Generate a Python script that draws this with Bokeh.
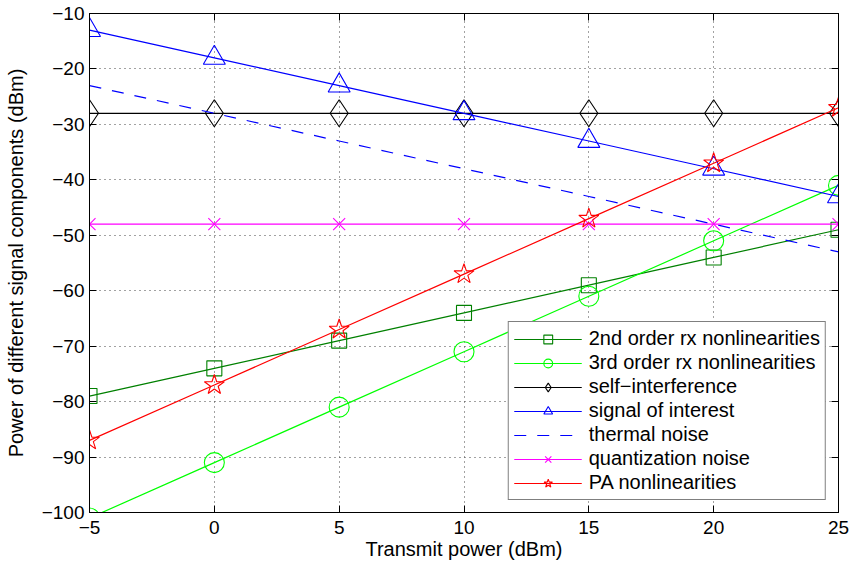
from bokeh.plotting import figure
from bokeh.models import (Range1d, FixedTicker, Legend, LegendItem, LinearAxis,
                          CustomJSTickFormatter)
from bokeh.embed import file_html
from bokeh.resources import INLINE

tx_power = [-5, 0, 5, 10, 15, 20, 25]
second_order = [-79, -74, -69, -64, -59, -54, -49]
third_order = [-101, -91, -81, -71, -61, -51, -41]
self_interference = [-28, -28, -28, -28, -28, -28, -28]
signal_of_interest = [-13, -18, -23, -28, -33, -38, -43]
thermal_noise = [-23, -28, -33, -38, -43, -48, -53]
quantization_noise = [-48, -48, -48, -48, -48, -48, -48]
pa_nonlin = [-87, -77, -67, -57, -47, -37, -27]

x_ticks = [-5, 0, 5, 10, 15, 20, 25]
y_ticks = [-100, -90, -80, -70, -60, -50, -40, -30, -20, -10]

FONT = "Liberation Sans"
TICK_FS = "19px"
LABEL_FS = "20px"

p = figure(width=849, height=565, output_backend="svg", toolbar_location=None,
           x_range=Range1d(-5, 25), y_range=Range1d(-100, -10),
           min_border_left=89, min_border_right=11, min_border_top=13,
           min_border_bottom=53)
p.background_fill_color = "white"
p.border_fill_color = "white"
p.outline_line_color = "black"
p.outline_line_width = 1

minus_fmt = CustomJSTickFormatter(code="return tick.toString().replace('-', '\u2212');")

for ax, ticks in ((p.xaxis[0], x_ticks), (p.yaxis[0], y_ticks)):
    ax.ticker = FixedTicker(ticks=ticks)
    ax.formatter = minus_fmt
    ax.major_tick_in = 7
    ax.major_tick_out = 0
    ax.minor_tick_line_color = None
    ax.axis_line_color = "black"
    ax.major_label_text_font = FONT
    ax.major_label_text_font_size = TICK_FS
    ax.major_label_text_color = "black"
    ax.axis_label_text_font = FONT
    ax.axis_label_text_font_size = LABEL_FS
    ax.axis_label_text_font_style = "normal"
    ax.axis_label_text_color = "black"

p.xaxis.axis_label = "Transmit power (dBm)"
p.yaxis.axis_label = "Power of different signal components (dBm)"
p.xaxis.major_label_standoff = 8
p.xaxis.axis_label_standoff = 1
p.yaxis.major_label_standoff = 5
p.yaxis.axis_label_standoff = 12

# mirrored tick marks on the top and right edges (labels not drawn)
for loc, ticks in (("above", x_ticks), ("right", y_ticks)):
    ax = LinearAxis(ticker=FixedTicker(ticks=ticks), major_tick_in=7, major_tick_out=0,
                    minor_tick_line_color=None, major_label_text_font_size="1px",
                    major_label_text_color=None, major_label_standoff=0,
                    axis_line_color="black")
    p.add_layout(ax, loc)

p.grid.grid_line_color = "#444444"
p.grid.grid_line_dash = "1 4"
p.xgrid.ticker = FixedTicker(ticks=x_ticks)
p.ygrid.ticker = FixedTicker(ticks=y_ticks)

series = [
    ("2nd order rx nonlinearities", second_order, "#008000", "square", 15, "solid"),
    ("3rd order rx nonlinearities", third_order, "#00FF00", "circle", 20, "solid"),
    ("self\u2212interference", self_interference, "#000000", "diamond", 27, "solid"),
    ("signal of interest", signal_of_interest, "#0000FF", "triangle", 22, "solid"),
    ("thermal noise", thermal_noise, "#0000FF", None, 0, "12 11"),
    ("quantization noise", quantization_noise, "#FF00FF", "x", 17, "solid"),
    ("PA nonlinearities", pa_nonlin, "#FF0000", "star", 21, "solid"),
]

items = []
for label, ys, color, marker, size, dash in series:
    rs = [p.line(tx_power, ys, line_color=color, line_width=1.2, line_dash=dash)]
    if marker:
        rs.append(p.scatter(tx_power, ys, marker=marker, size=size, fill_color=None,
                            line_color=color, line_width=1.1))
    items.append(LegendItem(label=label, renderers=rs))

legend = Legend(items=items, location="bottom_right")
legend.label_text_font = FONT
legend.label_text_font_size = LABEL_FS
legend.label_text_color = "black"
legend.glyph_width = 68
legend.glyph_height = 22
legend.label_height = 22
legend.label_standoff = 7
legend.spacing = 1
legend.padding = 5
legend.margin = 12
legend.border_line_color = "black"
legend.border_line_width = 1
legend.background_fill_color = "white"
legend.background_fill_alpha = 1
p.add_layout(legend)

open("out.html", "w").write(file_html(p, INLINE))
